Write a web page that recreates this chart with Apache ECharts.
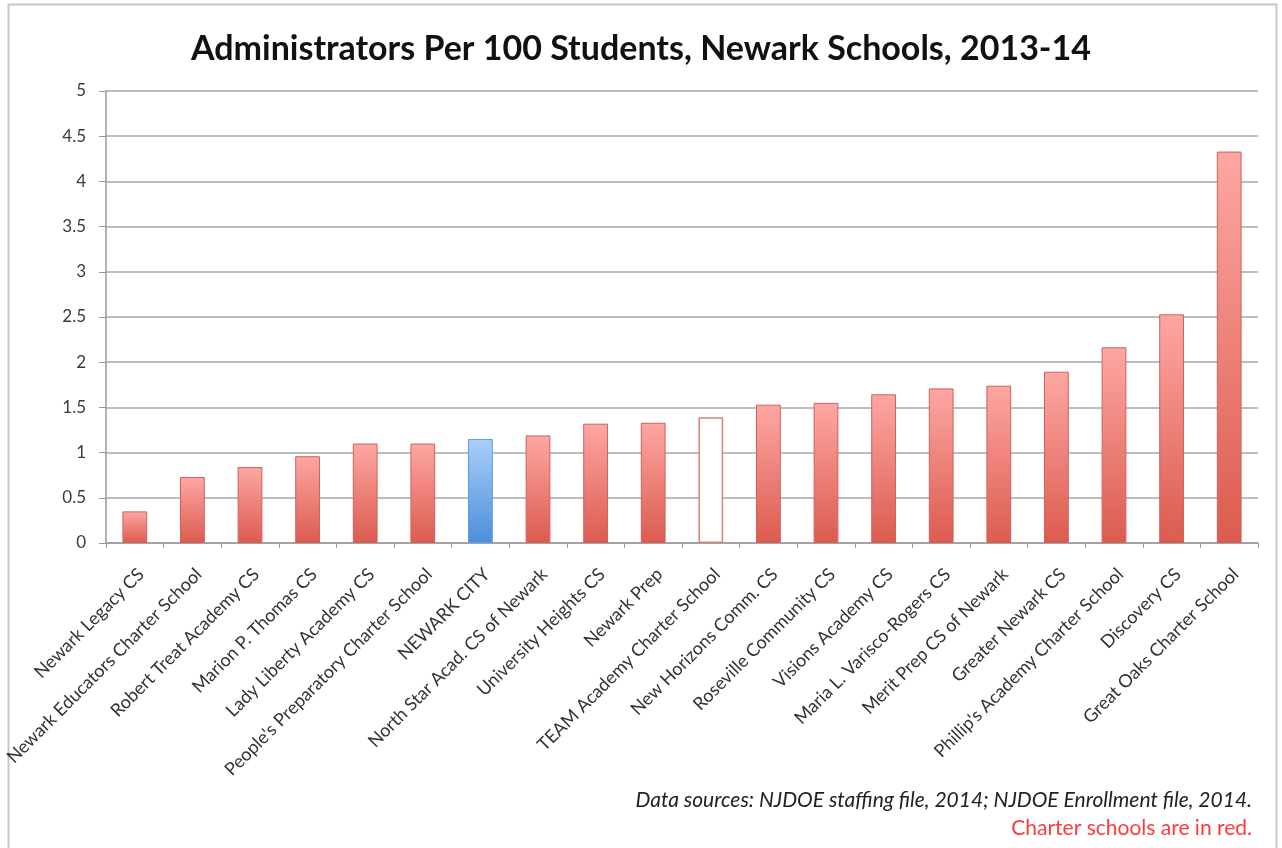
<!DOCTYPE html>
<html>
<head>
<meta charset="utf-8">
<script src="https://cdn.jsdelivr.net/npm/echarts@6/dist/echarts.min.js"></script>
<style>
html,body{margin:0;padding:0;background:#fff;}
#chart{width:1282px;height:848px;}
</style>
</head>
<body>
<div id="chart"></div>
<script>
const titleText = 'Administrators Per 100 Students, Newark Schools, 2013-14';
const categories = [
  'Newark Legacy CS', 'Newark Educators Charter School', 'Robert Treat Academy CS',
  'Marion P. Thomas CS', 'Lady Liberty Academy CS', "People's Preparatory Charter School",
  'NEWARK CITY', 'North Star Acad. CS of Newark', 'University Heights CS', 'Newark Prep',
  'TEAM Academy Charter School', 'New Horizons Comm. CS', 'Roseville Community CS',
  'Visions Academy CS', 'Maria L. Varisco-Rogers CS', 'Merit Prep CS of Newark',
  'Greater Newark CS', "Phillip's Academy Charter School", 'Discovery CS', 'Great Oaks Charter School'
];
const values = [0.35, 0.73, 0.84, 0.96, 1.10, 1.10, 1.15, 1.19, 1.32, 1.33,
  1.39, 1.53, 1.55, 1.645, 1.71, 1.74, 1.895, 2.165, 2.53, 4.33];
// kind of each school: charter (red), district (blue), outline (white with red border)
const kinds = ['charter','charter','charter','charter','charter','charter',
  'district','charter','charter','charter','outline','charter','charter','charter',
  'charter','charter','charter','charter','charter','charter'];
const yTicks = [0, 0.5, 1, 1.5, 2, 2.5, 3, 3.5, 4, 4.5, 5];
const sourceNote = 'Data sources: NJDOE staffing file, 2014; NJDOE Enrollment file, 2014.';
const redNote = 'Charter schools are in red.';

const FONT = 'Lato, "Open Sans", sans-serif';
const redGrad = new echarts.graphic.LinearGradient(0,0,0,1,[{offset:0,color:'#fda7a3'},{offset:1,color:'#dc5b4f'}]);
const blueGrad = new echarts.graphic.LinearGradient(0,0,0,1,[{offset:0,color:'#a9cefc'},{offset:1,color:'#4b8fd8'}]);
const styles = {
  charter: {color: redGrad, borderColor:'#d2605a', borderWidth:1},
  district: {color: blueGrad, borderColor:'#5f9bdc', borderWidth:1},
  outline: {color:'#ffffff', borderColor:'#df7f7d', borderWidth:1.5}
};
const seriesData = values.map((v,i)=>({value:v, itemStyle: styles[kinds[i]]}));

const chart = echarts.init(document.getElementById('chart'), null, {renderer:'canvas'});
chart.setOption({
  animation:false,
  backgroundColor:'#fff',
  title:{text:titleText, left:'center', top:27,
    textStyle:{fontFamily:FONT, fontSize:34, fontWeight:'bold', color:'#111'}},
  grid:{left:106, right:24, top:91, bottom:305, containLabel:false, outerBoundsMode:'none'},
  xAxis:{type:'category', data:categories,
    axisLine:{lineStyle:{color:'#9a9a9a', width:1.5}},
    axisTick:{show:true, alignWithLabel:false, length:5, lineStyle:{color:'#9a9a9a'}},
    axisLabel:{rotate:45, interval:0, fontFamily:FONT, fontSize:18, color:'#333', margin:22, verticalAlign:'top'}},
  yAxis:{type:'value', min:yTicks[0], max:yTicks[yTicks.length-1], interval:yTicks[1]-yTicks[0],
    axisLine:{show:true, lineStyle:{color:'#9a9a9a', width:1.5}},
    axisTick:{show:true, length:7, lineStyle:{color:'#9a9a9a'}},
    axisLabel:{fontFamily:FONT, fontSize:17, color:'#3a3a3a', margin:20},
    splitLine:{show:true, lineStyle:{color:'#a8a8a8', width:1.5}}},
  series:[{type:'bar', data:seriesData, barWidth:'43%'}],
  graphic:[
    {type:'rect', shape:{x:8.5, y:4.5, width:1268, height:850}, style:{fill:'none', stroke:'#c8c8c8', lineWidth:2}, silent:true},
    {type:'text', right:30, top:790, style:{text:sourceNote, fontFamily:FONT, fontStyle:'italic', fontSize:21, fill:'#222', textAlign:'right'}},
    {type:'text', right:30, top:818, style:{text:redNote, fontFamily:FONT, fontSize:21, fill:'#ff3a3a', textAlign:'right'}}
  ]
});
</script>
</body>
</html>
